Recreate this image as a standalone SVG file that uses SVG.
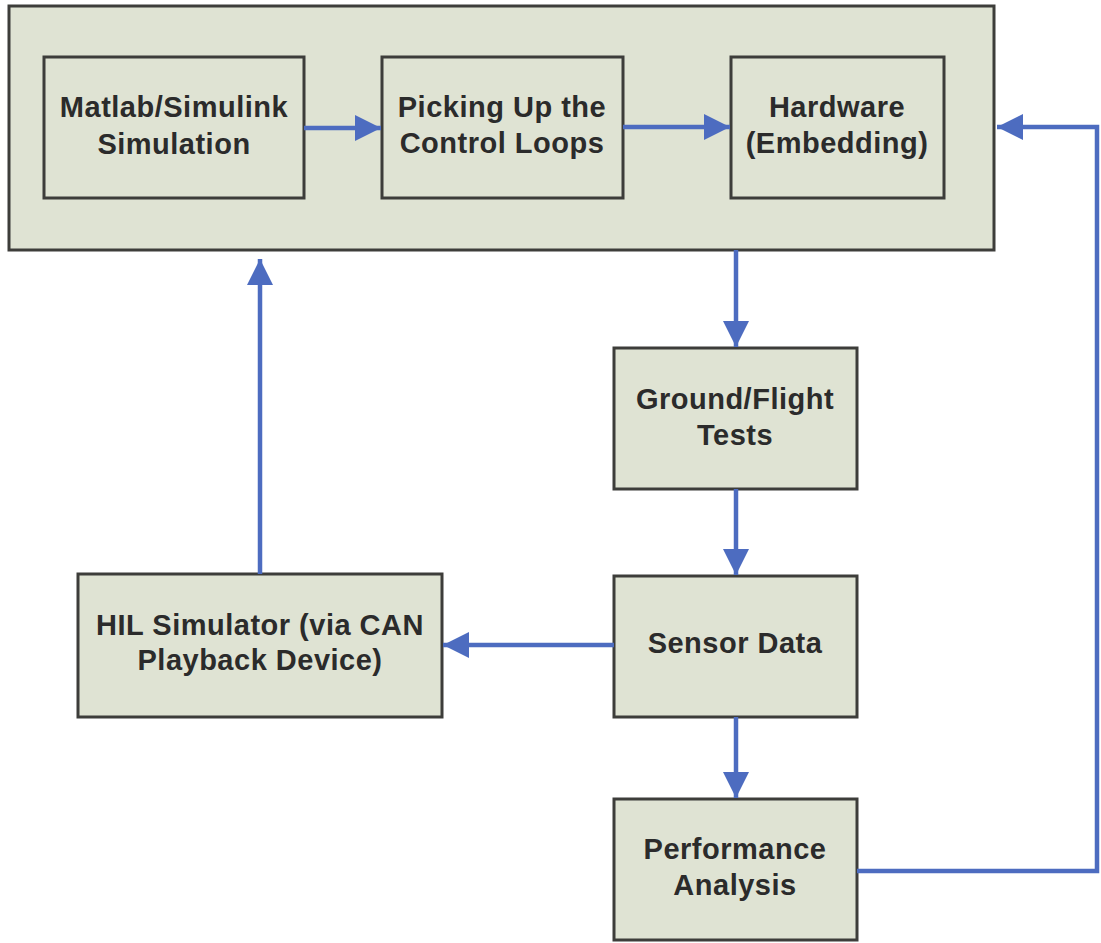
<svg xmlns="http://www.w3.org/2000/svg" width="1101" height="943" viewBox="0 0 1101 943">
<defs>
<style>
.box{fill:#dfe3d3;stroke:#3d3d3a;stroke-width:3}
.lbl{font-family:"Liberation Sans",Arial,sans-serif;font-weight:bold;font-size:29px;letter-spacing:0.5px;fill:#2b2b2b;text-anchor:middle}
.con{fill:none;stroke:#4d6cc0;stroke-width:4.5}
</style>
<marker id="ah" viewBox="0 0 10 10" refX="10" refY="5" markerWidth="27" markerHeight="26" markerUnits="userSpaceOnUse" orient="auto">
<path d="M0,0 L10,5 L0,10 z" fill="#4d6cc0"/>
</marker>
</defs>
<rect width="1101" height="943" fill="#ffffff"/>
<g id="outer"><rect class="box" x="9" y="6" width="985" height="244"/></g>
<g id="matlab"><rect class="box" x="44" y="57" width="260" height="141"/>
<text class="lbl" x="174" y="117">Matlab/Simulink</text><text class="lbl" x="174" y="154">Simulation</text></g>
<g id="picking"><rect class="box" x="382" y="57" width="241" height="141"/>
<text class="lbl" x="502" y="117">Picking Up the</text><text class="lbl" x="502" y="153">Control Loops</text></g>
<g id="hardware"><rect class="box" x="731" y="57" width="213" height="141"/>
<text class="lbl" x="837" y="117">Hardware</text><text class="lbl" x="837" y="153">(Embedding)</text></g>
<g id="ground"><rect class="box" x="614" y="348" width="243" height="141"/>
<text class="lbl" x="735" y="409">Ground/Flight</text><text class="lbl" x="735" y="445">Tests</text></g>
<g id="sensor"><rect class="box" x="614" y="576" width="243" height="141"/>
<text class="lbl" x="735" y="653">Sensor Data</text></g>
<g id="hil"><rect class="box" x="78" y="574" width="364" height="143"/>
<text class="lbl" x="260" y="635">HIL Simulator (via CAN</text><text class="lbl" x="260" y="670">Playback Device)</text></g>
<g id="perf"><rect class="box" x="614" y="799" width="243" height="141"/>
<text class="lbl" x="735" y="859">Performance</text><text class="lbl" x="735" y="895">Analysis</text></g>
<g id="connectors">
<line class="con" x1="304" y1="128" x2="381" y2="128" marker-end="url(#ah)"/>
<line class="con" x1="623" y1="127" x2="730" y2="127" marker-end="url(#ah)"/>
<line class="con" x1="736" y1="250" x2="736" y2="347" marker-end="url(#ah)"/>
<line class="con" x1="736" y1="489" x2="736" y2="575" marker-end="url(#ah)"/>
<line class="con" x1="736" y1="717" x2="736" y2="798" marker-end="url(#ah)"/>
<line class="con" x1="614" y1="645" x2="443" y2="645" marker-end="url(#ah)"/>
<line class="con" x1="260" y1="574" x2="260" y2="259" marker-end="url(#ah)"/>
<polyline class="con" points="857,871 1097,871 1097,127 997,127" marker-end="url(#ah)"/>
</g>
</svg>
